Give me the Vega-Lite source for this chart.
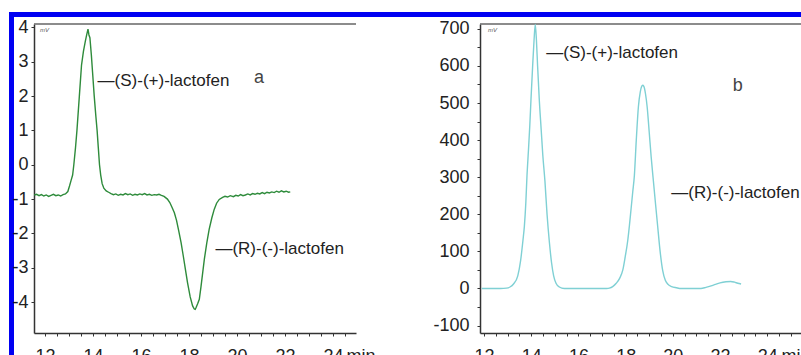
{
  "$schema": "https://vega.github.io/schema/vega-lite/v6.json",
  "padding": {"left": 8, "top": 11, "right": 0, "bottom": 0},
  "background": "white",
  "config": {
    "view": {"stroke": null},
    "font": "Liberation Sans",
    "axis": {
      "domainColor": "#333",
      "domainWidth": 1.5,
      "tickColor": "#333",
      "tickSize": 3,
      "labelFont": "Liberation Sans",
      "labelFontSize": 18,
      "labelColor": "#222",
      "grid": false,
      "labelOverlap": false,
      "labelFlush": false,
      "titleFont": "Liberation Sans",
      "titleFontSize": 18,
      "titleFontWeight": "normal",
      "titleColor": "#222"
    },
    "text": {"font": "Liberation Sans"}
  },
  "bounds": "flush",
  "spacing": 0,
  "hconcat": [
    {
      "width": 5,
      "height": 350,
      "view": {"fill": "#0000f2", "stroke": null},
      "data": {"values": [{"k": 1}]},
      "mark": {"type": "point", "opacity": 0},
      "encoding": {}
    },
    {
      "bounds": "flush",
      "spacing": 7,
      "vconcat": [
        {
          "width": 788,
          "height": 5,
          "view": {"fill": "#0000f2", "stroke": null},
          "data": {"values": [{"k": 1}]},
          "mark": {"type": "point", "opacity": 0},
          "encoding": {}
        },
        {
          "bounds": "flush",
          "spacing": 19,
          "hconcat": [
            {
              "width": 1,
              "height": 1,
              "data": {"values": [{"k": 1}]},
              "mark": {"type": "point", "opacity": 0},
              "encoding": {}
            },
            {
              "bounds": "flush",
              "spacing": 124,
              "hconcat": [
                {
                  "width": 322,
                  "height": 309,
                  "layer": [
                    {
                      "data": {"values": [{"k": 1}]},
                      "mark": {"type": "rule", "color": "#666", "strokeWidth": 1.5},
                      "encoding": {"y": {"datum": 4.1, "type": "quantitative"}}
                    },
                    {
                      "data": {"values": [
                        {"t": 11.55, "v": -0.88}, {"t": 11.65, "v": -0.86}, {"t": 11.75, "v": -0.9}, {"t": 11.85, "v": -0.87},
                        {"t": 11.95, "v": -0.91}, {"t": 12.05, "v": -0.88}, {"t": 12.15, "v": -0.92}, {"t": 12.25, "v": -0.89},
                        {"t": 12.35, "v": -0.86}, {"t": 12.45, "v": -0.9}, {"t": 12.55, "v": -0.88}, {"t": 12.65, "v": -0.91},
                        {"t": 12.75, "v": -0.87}, {"t": 12.85, "v": -0.85}, {"t": 12.95, "v": -0.78}, {"t": 13.02, "v": -0.62},
                        {"t": 13.08, "v": -0.47}, {"t": 13.15, "v": -0.3}, {"t": 13.2, "v": 0.0}, {"t": 13.27, "v": 0.5},
                        {"t": 13.33, "v": 1.0}, {"t": 13.43, "v": 2.0}, {"t": 13.52, "v": 2.9}, {"t": 13.6, "v": 3.3},
                        {"t": 13.68, "v": 3.6}, {"t": 13.74, "v": 3.8}, {"t": 13.79, "v": 3.95}, {"t": 13.83, "v": 3.78},
                        {"t": 13.87, "v": 3.7}, {"t": 13.93, "v": 3.2}, {"t": 13.98, "v": 2.7}, {"t": 14.05, "v": 2.0},
                        {"t": 14.12, "v": 1.4}, {"t": 14.17, "v": 1.0}, {"t": 14.22, "v": 0.5}, {"t": 14.27, "v": 0.0},
                        {"t": 14.32, "v": -0.3}, {"t": 14.38, "v": -0.55}, {"t": 14.45, "v": -0.68}, {"t": 14.55, "v": -0.76},
                        {"t": 14.65, "v": -0.8}, {"t": 14.75, "v": -0.84}, {"t": 14.85, "v": -0.87}, {"t": 14.95, "v": -0.85},
                        {"t": 15.05, "v": -0.89}, {"t": 15.15, "v": -0.86}, {"t": 15.25, "v": -0.88}, {"t": 15.35, "v": -0.84},
                        {"t": 15.45, "v": -0.87}, {"t": 15.55, "v": -0.85}, {"t": 15.65, "v": -0.89}, {"t": 15.75, "v": -0.86},
                        {"t": 15.85, "v": -0.88}, {"t": 15.95, "v": -0.85}, {"t": 16.05, "v": -0.87}, {"t": 16.15, "v": -0.84},
                        {"t": 16.25, "v": -0.88}, {"t": 16.35, "v": -0.86}, {"t": 16.45, "v": -0.89}, {"t": 16.55, "v": -0.87},
                        {"t": 16.65, "v": -0.88}, {"t": 16.75, "v": -0.86}, {"t": 16.85, "v": -0.89}, {"t": 16.96, "v": -0.92},
                        {"t": 17.1, "v": -1.0}, {"t": 17.2, "v": -1.1}, {"t": 17.3, "v": -1.25}, {"t": 17.39, "v": -1.4},
                        {"t": 17.48, "v": -1.62}, {"t": 17.57, "v": -1.92}, {"t": 17.67, "v": -2.27}, {"t": 17.76, "v": -2.65},
                        {"t": 17.85, "v": -3.05}, {"t": 17.94, "v": -3.44}, {"t": 18.05, "v": -3.85}, {"t": 18.15, "v": -4.11},
                        {"t": 18.22, "v": -4.2}, {"t": 18.26, "v": -4.21}, {"t": 18.3, "v": -4.15}, {"t": 18.36, "v": -4.05},
                        {"t": 18.43, "v": -3.92}, {"t": 18.5, "v": -3.55}, {"t": 18.57, "v": -3.15}, {"t": 18.64, "v": -2.75},
                        {"t": 18.74, "v": -2.28}, {"t": 18.84, "v": -1.88}, {"t": 18.95, "v": -1.55}, {"t": 19.05, "v": -1.3},
                        {"t": 19.15, "v": -1.12}, {"t": 19.26, "v": -1.01}, {"t": 19.4, "v": -0.95}, {"t": 19.5, "v": -0.92},
                        {"t": 19.61, "v": -0.94}, {"t": 19.72, "v": -0.9}, {"t": 19.85, "v": -0.93}, {"t": 19.95, "v": -0.89},
                        {"t": 20.05, "v": -0.91}, {"t": 20.15, "v": -0.87}, {"t": 20.25, "v": -0.9}, {"t": 20.35, "v": -0.88},
                        {"t": 20.45, "v": -0.85}, {"t": 20.55, "v": -0.88}, {"t": 20.65, "v": -0.84}, {"t": 20.75, "v": -0.86},
                        {"t": 20.85, "v": -0.83}, {"t": 20.95, "v": -0.85}, {"t": 21.05, "v": -0.81}, {"t": 21.15, "v": -0.84},
                        {"t": 21.25, "v": -0.8}, {"t": 21.35, "v": -0.82}, {"t": 21.45, "v": -0.79}, {"t": 21.55, "v": -0.81},
                        {"t": 21.65, "v": -0.77}, {"t": 21.75, "v": -0.8}, {"t": 21.85, "v": -0.76}, {"t": 21.95, "v": -0.79},
                        {"t": 22.05, "v": -0.77}, {"t": 22.15, "v": -0.8}, {"t": 22.22, "v": -0.79}
                      ]},
                      "mark": {"type": "line", "color": "#2e8b3b", "strokeWidth": 1.4},
                      "encoding": {
                        "x": {
                          "field": "t", "type": "quantitative",
                          "scale": {"domain": [11.54, 24.96], "nice": false, "zero": false},
                          "axis": {
                            "values": [12, 12.5, 13, 13.5, 14, 14.5, 15, 15.5, 16, 16.5, 17, 17.5, 18, 18.5, 19, 19.5, 20, 20.5, 21, 21.5, 22, 22.5, 23, 23.5, 24, 24.5],
                            "tickCount": 200,
                            "labelExpr": "datum.value % 2 == 0 ? '' + datum.value : ''",
                            "labelOverlap": false,
                            "labelPadding": 11,
                            "labelBaseline": "top",
                            "title": "min",
                            "titleX": 312,
                            "titleY": 14,
                            "titleAlign": "left",
                            "titleBaseline": "top",
                            "titleAngle": 0
                          }
                        },
                        "y": {
                          "field": "v", "type": "quantitative",
                          "scale": {"domain": [-4.9, 4.1], "nice": false, "zero": false},
                          "axis": {
                            "values": [-4, -3, -2, -1, 0, 1, 2, 3, 4],
                            "tickCount": 200,
                            "labelExpr": "'' + datum.value",
                            "labelOverlap": false,
                            "labelPadding": 3,
                            "title": null
                          }
                        }
                      }
                    },
                    {
                      "data": {"values": [{"k": 1}]},
                      "mark": {"type": "text", "align": "left", "baseline": "middle", "fontSize": 17, "color": "#222"},
                      "encoding": {"x": {"datum": 14.19, "type": "quantitative"}, "y": {"datum": 2.44, "type": "quantitative"}, "text": {"value": "—(S)-(+)-lactofen"}}
                    },
                    {
                      "data": {"values": [{"k": 1}]},
                      "mark": {"type": "text", "align": "center", "baseline": "middle", "fontSize": 18, "color": "#444"},
                      "encoding": {"x": {"datum": 20.915, "type": "quantitative"}, "y": {"datum": 2.53, "type": "quantitative"}, "text": {"value": "a"}}
                    },
                    {
                      "data": {"values": [{"k": 1}]},
                      "mark": {"type": "text", "align": "left", "baseline": "middle", "fontSize": 17, "color": "#222"},
                      "encoding": {"x": {"datum": 19.1, "type": "quantitative"}, "y": {"datum": -2.45, "type": "quantitative"}, "text": {"value": "—(R)-(-)-lactofen"}}
                    },
                    {
                      "data": {"values": [{"k": 1}]},
                      "mark": {"type": "text", "align": "left", "baseline": "middle", "fontSize": 6, "color": "#555", "fontStyle": "italic"},
                      "encoding": {"x": {"datum": 11.79, "type": "quantitative"}, "y": {"datum": 3.93, "type": "quantitative"}, "text": {"value": "mV"}}
                    }
                  ]
                },
                {
                  "width": 322,
                  "height": 309,
                  "layer": [
                    {
                      "data": {"values": [{"k": 1}]},
                      "mark": {"type": "rule", "color": "#666", "strokeWidth": 1.5},
                      "encoding": {"y": {"datum": 713, "type": "quantitative"}}
                    },
                    {
                      "data": {"values": [
                        {"t": 11.9, "v": 0}, {"t": 12.3, "v": 0}, {"t": 12.7, "v": 0}, {"t": 12.95, "v": 1},
                        {"t": 13.1, "v": 4}, {"t": 13.25, "v": 12}, {"t": 13.43, "v": 34}, {"t": 13.55, "v": 75},
                        {"t": 13.65, "v": 130}, {"t": 13.71, "v": 168}, {"t": 13.77, "v": 230}, {"t": 13.82, "v": 303},
                        {"t": 13.88, "v": 370}, {"t": 13.94, "v": 440}, {"t": 13.99, "v": 510}, {"t": 14.06, "v": 600},
                        {"t": 14.12, "v": 670}, {"t": 14.17, "v": 712}, {"t": 14.22, "v": 670}, {"t": 14.27, "v": 600},
                        {"t": 14.34, "v": 510}, {"t": 14.42, "v": 430}, {"t": 14.49, "v": 360}, {"t": 14.58, "v": 290},
                        {"t": 14.67, "v": 200}, {"t": 14.77, "v": 124}, {"t": 14.86, "v": 70}, {"t": 14.95, "v": 34},
                        {"t": 15.05, "v": 14}, {"t": 15.19, "v": 4}, {"t": 15.4, "v": 0}, {"t": 15.8, "v": 0},
                        {"t": 16.3, "v": 0}, {"t": 16.8, "v": 0}, {"t": 17.2, "v": 0}, {"t": 17.31, "v": 1},
                        {"t": 17.45, "v": 5}, {"t": 17.6, "v": 14}, {"t": 17.75, "v": 28}, {"t": 17.88, "v": 50},
                        {"t": 17.98, "v": 85}, {"t": 18.09, "v": 130}, {"t": 18.16, "v": 170}, {"t": 18.23, "v": 215},
                        {"t": 18.3, "v": 260}, {"t": 18.37, "v": 305}, {"t": 18.45, "v": 400}, {"t": 18.54, "v": 490},
                        {"t": 18.62, "v": 530}, {"t": 18.68, "v": 545}, {"t": 18.72, "v": 548}, {"t": 18.77, "v": 545},
                        {"t": 18.84, "v": 525}, {"t": 18.91, "v": 490}, {"t": 19.0, "v": 420}, {"t": 19.08, "v": 355},
                        {"t": 19.16, "v": 300}, {"t": 19.27, "v": 225}, {"t": 19.36, "v": 165}, {"t": 19.46, "v": 100},
                        {"t": 19.57, "v": 48}, {"t": 19.68, "v": 22}, {"t": 19.78, "v": 12}, {"t": 19.95, "v": 5},
                        {"t": 20.15, "v": 2}, {"t": 20.35, "v": 0}, {"t": 20.8, "v": 0}, {"t": 21.19, "v": 0},
                        {"t": 21.4, "v": 3}, {"t": 21.62, "v": 7}, {"t": 21.8, "v": 11}, {"t": 22.0, "v": 15},
                        {"t": 22.25, "v": 18}, {"t": 22.45, "v": 19}, {"t": 22.61, "v": 17}, {"t": 22.75, "v": 14},
                        {"t": 22.89, "v": 12}
                      ]},
                      "mark": {"type": "line", "color": "#7fd0d4", "strokeWidth": 1.4, "interpolate": "monotone"},
                      "encoding": {
                        "x": {
                          "field": "t", "type": "quantitative",
                          "scale": {"domain": [11.83, 25.47], "nice": false, "zero": false},
                          "axis": {
                            "values": [12, 12.5, 13, 13.5, 14, 14.5, 15, 15.5, 16, 16.5, 17, 17.5, 18, 18.5, 19, 19.5, 20, 20.5, 21, 21.5, 22, 22.5, 23, 23.5, 24, 24.5, 25],
                            "tickCount": 200,
                            "labelExpr": "datum.value % 2 == 0 ? '' + datum.value : ''",
                            "labelOverlap": false,
                            "labelPadding": 11,
                            "labelBaseline": "top",
                            "title": "min",
                            "titleX": 301,
                            "titleY": 14,
                            "titleAlign": "left",
                            "titleBaseline": "top",
                            "titleAngle": 0
                          }
                        },
                        "y": {
                          "field": "v", "type": "quantitative",
                          "scale": {"domain": [-120, 713], "nice": false, "zero": false},
                          "axis": {
                            "values": [-100, -50, 0, 50, 100, 150, 200, 250, 300, 350, 400, 450, 500, 550, 600, 650, 700],
                            "tickCount": 200,
                            "labelExpr": "datum.value % 100 == 0 ? '' + datum.value : ''",
                            "labelOverlap": false,
                            "labelPadding": 8,
                            "title": null
                          }
                        }
                      }
                    },
                    {
                      "data": {"values": [{"k": 1}]},
                      "mark": {"type": "text", "align": "left", "baseline": "middle", "fontSize": 17, "color": "#222"},
                      "encoding": {"x": {"datum": 14.635, "type": "quantitative"}, "y": {"datum": 634.8, "type": "quantitative"}, "text": {"value": "—(S)-(+)-lactofen"}}
                    },
                    {
                      "data": {"values": [{"k": 1}]},
                      "mark": {"type": "text", "align": "center", "baseline": "middle", "fontSize": 18, "color": "#444"},
                      "encoding": {"x": {"datum": 22.75, "type": "quantitative"}, "y": {"datum": 546, "type": "quantitative"}, "text": {"value": "b"}}
                    },
                    {
                      "data": {"values": [{"k": 1}]},
                      "mark": {"type": "text", "align": "left", "baseline": "middle", "fontSize": 17, "color": "#222"},
                      "encoding": {"x": {"datum": 19.93, "type": "quantitative"}, "y": {"datum": 257.5, "type": "quantitative"}, "text": {"value": "—(R)-(-)-lactofen"}}
                    },
                    {
                      "data": {"values": [{"k": 1}]},
                      "mark": {"type": "text", "align": "left", "baseline": "middle", "fontSize": 6, "color": "#555", "fontStyle": "italic"},
                      "encoding": {"x": {"datum": 12.17, "type": "quantitative"}, "y": {"datum": 697, "type": "quantitative"}, "text": {"value": "mV"}}
                    }
                  ]
                }
              ]
            }
          ]
        }
      ]
    }
  ]
}
